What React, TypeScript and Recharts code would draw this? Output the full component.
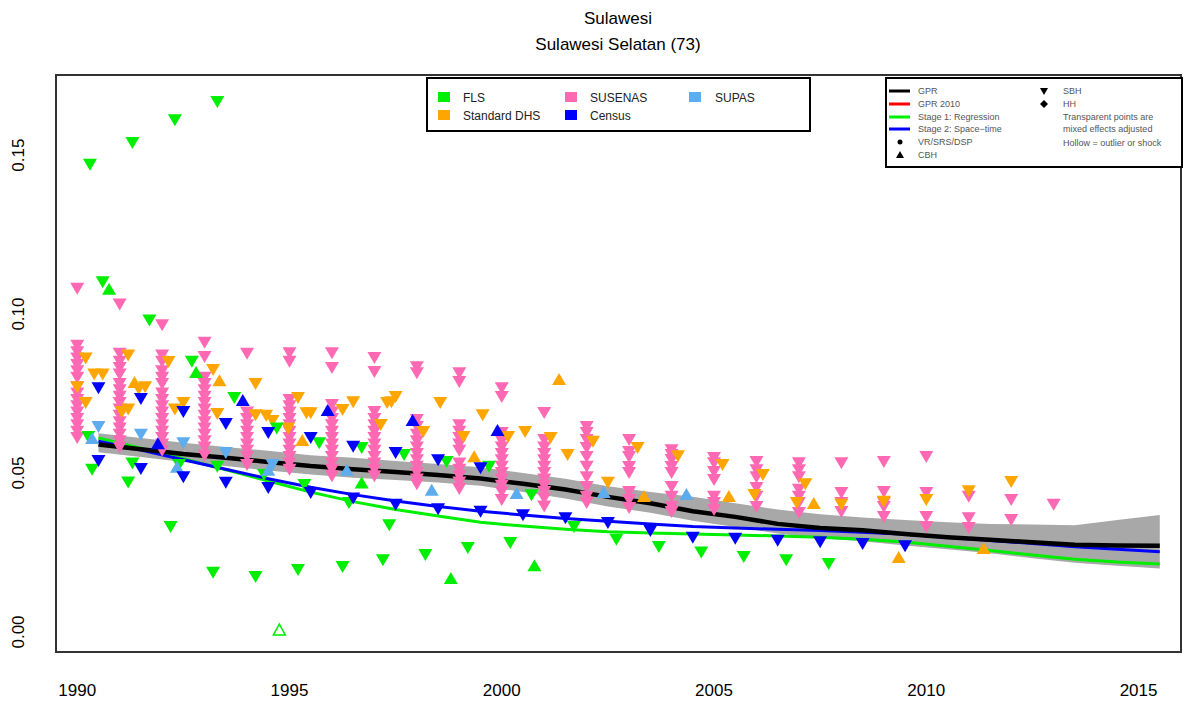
import { ComposedChart, Area, Line, Scatter, XAxis, YAxis } from "recharts";

const FONT = '"Liberation Sans", Arial, sans-serif';

// smoothed estimates, one value per mid-year
const lineYears = [
  1990.5, 1991.5, 1992.5, 1993.5, 1994.5, 1995.5, 1996.5, 1997.5, 1998.5, 1999.5, 2000.5, 2001.5, 2002.5,
  2003.5, 2004.5, 2005.5, 2006.5, 2007.5, 2008.5, 2009.5, 2010.5, 2011.5, 2012.5, 2013.5, 2014.5, 2015.5,
];
const gprValues = [
  0.059, 0.0575, 0.056, 0.0548, 0.0535, 0.0522, 0.0512, 0.0503, 0.0494, 0.0483, 0.0466, 0.0448, 0.0425,
  0.0405, 0.038, 0.0362, 0.034, 0.0327, 0.032, 0.0308, 0.0298, 0.029, 0.0282, 0.0274, 0.0272, 0.0271,
];
const gprLower = [
  0.0565, 0.055, 0.0535, 0.0522, 0.0508, 0.0495, 0.0485, 0.0478, 0.047, 0.046, 0.044, 0.042, 0.0395,
  0.0375, 0.035, 0.033, 0.031, 0.0295, 0.0285, 0.0272, 0.026, 0.0248, 0.0232, 0.0218, 0.0208, 0.02,
];
const gprUpper = [
  0.0625, 0.061, 0.0595, 0.0582, 0.057, 0.0556, 0.0548, 0.0538, 0.0528, 0.0518, 0.05, 0.0482, 0.0458,
  0.044, 0.0425, 0.0405, 0.0385, 0.037, 0.036, 0.0352, 0.0345, 0.034, 0.0338, 0.0336, 0.0352, 0.0368,
];
const stage1Values = [
  0.061, 0.0578, 0.0545, 0.051, 0.0475, 0.044, 0.041, 0.0385, 0.0365, 0.0345, 0.0333, 0.0323, 0.0315,
  0.0311, 0.0308, 0.0305, 0.0302, 0.0298, 0.0292, 0.0283, 0.027, 0.0256, 0.0242, 0.0229, 0.022, 0.0214,
];
const stage2Values = [
  0.06, 0.0572, 0.0542, 0.0512, 0.0482, 0.0455, 0.0432, 0.0412, 0.0395, 0.038, 0.0368, 0.0357, 0.0348,
  0.034, 0.0332, 0.0327, 0.0323, 0.0319, 0.0314, 0.0307, 0.0298, 0.0288, 0.0278, 0.0268, 0.026, 0.0252,
];

// data points: [year, value]
const flsSbh = [
  [1990.3, 0.147], [1991.3, 0.1538], [1992.3, 0.161], [1993.3, 0.1667],
  [1990.6, 0.11], [1991.7, 0.098], [1992.7, 0.085],
  [1990.26, 0.0613], [1990.35, 0.051], [1991.2, 0.047], [1991.3, 0.053], [1992.2, 0.033], [1992.4, 0.0525],
  [1993.2, 0.0186], [1993.3, 0.052], [1993.7, 0.0736], [1994.2, 0.0173], [1994.4, 0.0494], [1994.7, 0.064],
  [1995.2, 0.0195], [1995.35, 0.0462], [1995.7, 0.0594],
  [1996.7, 0.0579], [1997.7, 0.0557], [1998.7, 0.0535], [1999.7, 0.052], [2000.7, 0.043], [1996.4, 0.0406],
  [1997.35, 0.0336], [1996.25, 0.0204], [1997.2, 0.0226], [1998.2, 0.0242], [1999.2, 0.0264], [2000.2, 0.028],
  [2001.7, 0.033], [2002.7, 0.029], [2003.7, 0.0267], [2004.7, 0.025], [2005.7, 0.0236], [2006.7, 0.0226],
  [2007.7, 0.0214],
];
const flsCbh = [[1990.75, 0.108], [1992.8, 0.0818], [1996.7, 0.047], [1998.8, 0.017], [2000.77, 0.021]];
const flsOutlier = [[1994.76, 0.0006]];

const censusSbh = [
  [1990.5, 0.0767], [1990.5, 0.0538], [1991.5, 0.0733], [1991.5, 0.0513], [1992.5, 0.0692], [1992.5, 0.0487],
  [1993.5, 0.0654], [1993.5, 0.0469], [1994.5, 0.0626], [1994.5, 0.0453], [1995.5, 0.061], [1995.5, 0.0437],
  [1996.5, 0.0583], [1997.5, 0.0563], [1998.5, 0.054], [1999.5, 0.0515], [1996.5, 0.042], [1997.5, 0.04],
  [1998.5, 0.0386], [1999.5, 0.0378], [2000.5, 0.0367], [2001.5, 0.0358], [2002.5, 0.0343], [2003.5, 0.0318],
  [2004.5, 0.0296], [2005.5, 0.0293], [2006.5, 0.0287], [2007.5, 0.0282], [2008.5, 0.0277], [2009.5, 0.027],
];
const censusCbh = [[1991.9, 0.0594], [1993.9, 0.073], [1995.9, 0.0698], [1997.9, 0.0667], [1999.9, 0.0635]];

const supasSbh = [[1990.5, 0.0645], [1991.5, 0.062], [1992.5, 0.0594], [1993.5, 0.0563], [1994.6, 0.0525]];
const supasCbh = [
  [1990.35, 0.061], [1992.35, 0.052], [1994.5, 0.051], [1996.35, 0.051], [1998.35, 0.0447], [2000.35, 0.0437],
  [2002.4, 0.044], [2004.35, 0.0434],
];

const dhsSbh = [
  [1990.2, 0.086], [1990.4, 0.081], [1990.6, 0.081], [1990.0, 0.077], [1990.2, 0.072], [1991.2, 0.087],
  [1991.45, 0.0764], [1991.6, 0.077], [1991.05, 0.0692], [1991.2, 0.07], [1992.15, 0.0849], [1992.5, 0.072],
  [1992.3, 0.07], [1993.2, 0.0824], [1994.2, 0.078], [1993.3, 0.0686], [1994.2, 0.0682], [1994.45, 0.068],
  [1994.6, 0.0664], [1995.2, 0.0736], [1994.97, 0.064], [1995.4, 0.0688], [1995.5, 0.0688],
  [1996.5, 0.0723], [1996.25, 0.0698], [1997.4, 0.0723], [1997.5, 0.0739], [1997.3, 0.072], [1998.55, 0.072],
  [1999.55, 0.0682], [1997.15, 0.0651], [1998.15, 0.0629], [1999.1, 0.0613], [2000.55, 0.0629], [2000.15, 0.0613],
  [2001.15, 0.061], [2001.55, 0.0557], [2002.15, 0.0598], [2002.5, 0.0469],
  [2003.2, 0.0579], [2004.15, 0.0553], [2005.2, 0.0525], [2006.15, 0.0494], [2007.15, 0.0465], [2005.95, 0.0431],
  [2006.95, 0.0406], [2008.0, 0.04], [2009.0, 0.041], [2010.0, 0.0415], [2011.0, 0.0443], [2012.0, 0.0472],
];
const dhsCbh = [
  [1991.35, 0.0786], [1993.35, 0.0792], [1995.3, 0.0604], [2001.35, 0.0796], [1999.35, 0.0553], [2003.35, 0.0428],
  [2005.35, 0.0428], [2007.35, 0.0406], [2009.35, 0.0236], [2011.35, 0.0264],
];

const susenasYears = [
  1990, 1991, 1992, 1993, 1994, 1995, 1996, 1997, 1998, 1999, 2000, 2001, 2002, 2003, 2004, 2005, 2006, 2007,
  2008, 2009, 2010, 2011, 2012, 2013,
];
const susenasValues = [
  [0.108, 0.09, 0.088, 0.086, 0.084, 0.082, 0.08, 0.077, 0.075, 0.073, 0.071, 0.069, 0.067, 0.065, 0.063, 0.061],
  [0.103, 0.0875, 0.085, 0.083, 0.081, 0.078, 0.076, 0.074, 0.072, 0.07, 0.068, 0.066, 0.064, 0.062, 0.06, 0.058],
  [0.0965, 0.087, 0.085, 0.082, 0.08, 0.078, 0.075, 0.073, 0.071, 0.069, 0.067, 0.065, 0.063, 0.061, 0.059, 0.057],
  [0.091, 0.0865, 0.08, 0.078, 0.076, 0.074, 0.072, 0.07, 0.068, 0.066, 0.064, 0.062, 0.06, 0.058, 0.0555],
  [0.0875, 0.069, 0.067, 0.065, 0.063, 0.061, 0.059, 0.057, 0.055, 0.0525],
  [0.0877, 0.085, 0.073, 0.071, 0.069, 0.067, 0.065, 0.063, 0.061, 0.059, 0.057, 0.055, 0.053, 0.051],
  [0.0877, 0.083, 0.0714, 0.069, 0.067, 0.065, 0.063, 0.061, 0.059, 0.057, 0.055, 0.053, 0.051, 0.049],
  [0.0862, 0.0818, 0.0692, 0.067, 0.065, 0.063, 0.061, 0.059, 0.057, 0.055, 0.053, 0.051, 0.049],
  [0.0833, 0.0814, 0.0667, 0.0645, 0.062, 0.06, 0.058, 0.056, 0.054, 0.052, 0.05, 0.048, 0.0465],
  [0.0814, 0.0786, 0.065, 0.063, 0.061, 0.059, 0.057, 0.053, 0.051, 0.049, 0.047, 0.045],
  [0.0767, 0.0739, 0.0626, 0.06, 0.058, 0.056, 0.054, 0.052, 0.05, 0.048, 0.046, 0.044, 0.0415],
  [0.0689, 0.0604, 0.058, 0.056, 0.054, 0.052, 0.05, 0.048, 0.046, 0.044, 0.042, 0.0395],
  [0.0645, 0.0626, 0.0604, 0.0579, 0.055, 0.052, 0.0487, 0.0456, 0.0425, 0.0406],
  [0.0604, 0.0566, 0.055, 0.0519, 0.05, 0.044, 0.0415, 0.039],
  [0.0572, 0.0557, 0.0541, 0.0519, 0.05, 0.0456, 0.0425, 0.0393, 0.0377],
  [0.0547, 0.0531, 0.0503, 0.0478, 0.0425, 0.0406, 0.0384],
  [0.0535, 0.0509, 0.0487, 0.0453, 0.0425, 0.0393],
  [0.0531, 0.0509, 0.0487, 0.0447, 0.0425, 0.0406, 0.0374],
  [0.0531, 0.0437, 0.0406, 0.0377],
  [0.0535, 0.044, 0.0406, 0.0393, 0.0362],
  [0.055, 0.0437, 0.0362, 0.033],
  [0.0425, 0.0358, 0.0327],
  [0.0415, 0.0352],
  [0.04],
];

const xTicks = [1990, 1995, 2000, 2005, 2010, 2015];
const yTicks = [0, 0.05, 0.1, 0.15];

const chartData = lineYears.map((year, i) => ({
  year,
  gpr: gprValues[i],
  stage1: stage1Values[i],
  stage2: stage2Values[i],
  band: [gprLower[i], gprUpper[i]],
}));

const toPoints = (pairs: number[][]) => pairs.map(([year, value]) => ({ year, value }));
const susenasPoints = susenasYears.flatMap((year, i) => susenasValues[i].map((value) => ({ year, value })));

const COLORS = {
  fls: "#00EE00",
  dhs: "#FFA500",
  susenas: "#FF69B4",
  census: "#0000FF",
  supas: "#5CACEE",
  band: "#A8A8A8",
};

function DownTri(props: any) {
  const { cx, cy, fill } = props;
  if (cx == null || cy == null) return null;
  return <path d={`M${cx - 7},${cy - 6}L${cx + 7},${cy - 6}L${cx},${cy + 6}Z`} fill={fill} />;
}

function UpTri(props: any) {
  const { cx, cy, fill } = props;
  if (cx == null || cy == null) return null;
  return <path d={`M${cx - 7},${cy + 6}L${cx + 7},${cy + 6}L${cx},${cy - 6}Z`} fill={fill} />;
}

function HollowUpTri(props: any) {
  const { cx, cy, fill } = props;
  if (cx == null || cy == null) return null;
  return (
    <path d={`M${cx - 6},${cy + 5}L${cx + 6},${cy + 5}L${cx},${cy - 6}Z`} fill="none" stroke={fill} strokeWidth={1.5} />
  );
}

function XTick({ x, y, payload }: any) {
  return (
    <text x={x} y={y} dy={36} textAnchor="middle" fontSize={17} fontFamily={FONT} fill="#000">
      {payload.value}
    </text>
  );
}

function YTick({ x, y, payload }: any) {
  const tx = x - 24;
  return (
    <text x={tx} y={y} transform={`rotate(-90, ${tx}, ${y})`} textAnchor="middle" fontSize={17} fontFamily={FONT} fill="#000">
      {payload.value.toFixed(2)}
    </text>
  );
}

function Overlay() {
  const small = { fontSize: 9, fontFamily: FONT, fill: "#555" };
  const mid = { fontSize: 12, fontFamily: FONT, fill: "#222" };
  return (
    <svg width={1183} height={704} style={{ position: "absolute", left: 0, top: 0, pointerEvents: "none" }}>
      {/* plot frame */}
      <rect x={56} y={75} width={1125} height={577} fill="none" stroke="#333" strokeWidth={2} />

      <text x={618} y={24} textAnchor="middle" fontSize={17} fontFamily={FONT}>Sulawesi</text>
      <text x={618} y={50} textAnchor="middle" fontSize={17} fontFamily={FONT}>Sulawesi Selatan (73)</text>

      <rect x={427} y={78} width={383} height={53} fill="#fff" stroke="#000" strokeWidth={2} />
      <rect x={438} y={92} width={12} height={10} fill={COLORS.fls} />
      <text x={463} y={102} {...mid}>FLS</text>
      <rect x={438} y={110} width={12} height={10} fill={COLORS.dhs} />
      <text x={463} y={120} {...mid}>Standard DHS</text>
      <rect x={565} y={92} width={12} height={10} fill={COLORS.susenas} />
      <text x={590} y={102} {...mid}>SUSENAS</text>
      <rect x={565} y={110} width={12} height={10} fill={COLORS.census} />
      <text x={590} y={120} {...mid}>Census</text>
      <rect x={689} y={92} width={12} height={10} fill={COLORS.supas} />
      <text x={715} y={102} {...mid}>SUPAS</text>

      <rect x={886} y={78} width={296} height={89} fill="#fff" stroke="#000" strokeWidth={2} />
      <line x1={889} x2={910} y1={91} y2={91} stroke="#000" strokeWidth={3} />
      <text x={918} y={94} {...small}>GPR</text>
      <line x1={889} x2={910} y1={104} y2={104} stroke="#FF0000" strokeWidth={3} />
      <text x={918} y={107} {...small}>GPR 2010</text>
      <line x1={889} x2={910} y1={117} y2={117} stroke="#00EE00" strokeWidth={3} />
      <text x={918} y={120} {...small}>Stage 1: Regression</text>
      <line x1={889} x2={910} y1={129} y2={129} stroke="#0000FF" strokeWidth={3} />
      <text x={918} y={132} {...small}>Stage 2: Space−time</text>
      <circle cx={900} cy={142} r={2.5} fill="#000" />
      <text x={918} y={145} {...small}>VR/SRS/DSP</text>
      <path d="M896,158L904,158L900,151Z" fill="#000" />
      <text x={918} y={158} {...small}>CBH</text>

      <path d="M1040,88L1048,88L1044,95Z" fill="#000" />
      <text x={1063} y={94} {...small}>SBH</text>
      <path d="M1044,100L1048,104L1044,108L1040,104Z" fill="#000" />
      <text x={1063} y={107} {...small}>HH</text>
      <text x={1063} y={120} {...small}>Transparent points are</text>
      <text x={1063} y={132} {...small}>mixed effects adjusted</text>
      <text x={1063} y={146} {...small}>Hollow = outlier or shock</text>
    </svg>
  );
}

export default function App() {
  return (
    <div style={{ position: "absolute", left: 0, top: 0, width: 1183, height: 704, background: "#fff" }}>
      <ComposedChart width={1183} height={704} data={chartData} margin={{ top: 75, right: 2, bottom: 0, left: 16 }}>
        <XAxis
          dataKey="year"
          type="number"
          domain={[1989.5, 2016]}
          ticks={xTicks}
          tick={<XTick />}
          tickLine={false}
          axisLine={false}
          height={52}
          allowDataOverflow
        />
        <YAxis
          type="number"
          domain={[-0.0063, 0.1752]}
          ticks={yTicks}
          tick={<YTick />}
          tickLine={false}
          axisLine={false}
          width={40}
          allowDataOverflow
        />
        <Area dataKey="band" type="linear" fill={COLORS.band} fillOpacity={1} stroke="none" isAnimationActive={false} />
        <Line dataKey="stage1" type="linear" stroke="#00EE00" strokeWidth={3} dot={false} isAnimationActive={false} />
        <Line dataKey="stage2" type="linear" stroke="#0000FF" strokeWidth={3} dot={false} isAnimationActive={false} />
        <Line dataKey="gpr" type="linear" stroke="#000" strokeWidth={4.5} dot={false} isAnimationActive={false} />

        <Scatter data={susenasPoints} dataKey="value" fill={COLORS.susenas} shape={<DownTri />} isAnimationActive={false} />
        <Scatter data={toPoints(dhsSbh)} dataKey="value" fill={COLORS.dhs} shape={<DownTri />} isAnimationActive={false} />
        <Scatter data={toPoints(dhsCbh)} dataKey="value" fill={COLORS.dhs} shape={<UpTri />} isAnimationActive={false} />
        <Scatter data={toPoints(flsSbh)} dataKey="value" fill={COLORS.fls} shape={<DownTri />} isAnimationActive={false} />
        <Scatter data={toPoints(flsCbh)} dataKey="value" fill={COLORS.fls} shape={<UpTri />} isAnimationActive={false} />
        <Scatter data={toPoints(flsOutlier)} dataKey="value" fill={COLORS.fls} shape={<HollowUpTri />} isAnimationActive={false} />
        <Scatter data={toPoints(supasSbh)} dataKey="value" fill={COLORS.supas} shape={<DownTri />} isAnimationActive={false} />
        <Scatter data={toPoints(supasCbh)} dataKey="value" fill={COLORS.supas} shape={<UpTri />} isAnimationActive={false} />
        <Scatter data={toPoints(censusSbh)} dataKey="value" fill={COLORS.census} shape={<DownTri />} isAnimationActive={false} />
        <Scatter data={toPoints(censusCbh)} dataKey="value" fill={COLORS.census} shape={<UpTri />} isAnimationActive={false} />
      </ComposedChart>
      <Overlay />
    </div>
  );
}
